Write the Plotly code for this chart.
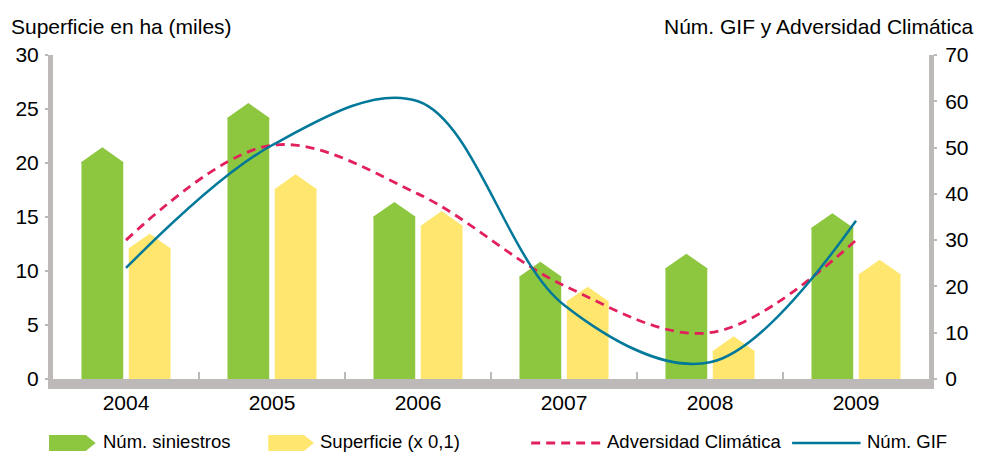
import plotly.graph_objects as go

# ---------------- data ----------------
years = ["2004", "2005", "2006", "2007", "2008", "2009"]
siniestros = [20.1, 24.2, 15.05, 9.5, 10.25, 14.0]      # left axis
superficie = [12.1, 17.6, 14.2, 7.2, 2.6, 9.7]          # left axis (x 0,1)
adversidad = [30.0, 50.5, 40.0, 20.2, 10.0, 30.0]       # right axis
num_gif = [24.0, 50.5, 60.0, 16.0, 3.6, 34.2]           # right axis

left_ticks = [0, 5, 10, 15, 20, 25, 30]
right_ticks = [0, 10, 20, 30, 40, 50, 60, 70]

# ---------------- style ----------------
W, H = 981, 452
L, R, T, B = 53, 936, 55, 379
GREEN = "#8DC63F"
YELLOW = "#FFE76F"
TEAL = "#00789A"
RED = "#E2215C"
GREY = "#BDB9B9"
FONT = "Liberation Sans, Arial, sans-serif"

BAR_W = 0.286
OFF_G = -0.305
OFF_Y = 0.019
CAP = 1.35  # arrow cap height in left-axis units


def px(x):
    return (x - L) / (R - L)


def py(y):
    return (B - y) / (B - T)


xs = list(range(len(years)))

fig = go.Figure()


def add_arrow_bars(vals, off, color, name):
    fig.add_trace(go.Bar(x=xs, y=vals, width=BAR_W, offset=off,
                         marker=dict(color=color, line=dict(width=0)),
                         name=name, showlegend=False, hoverinfo="skip"))
    cx, cy = [], []
    for x, v in zip(xs, vals):
        x0 = x + off
        x1 = x0 + BAR_W
        cx += [x0, x0, (x0 + x1) / 2, x1, x1, None]
        cy += [v - 0.15, v, v + CAP, v, v - 0.15, None]
    fig.add_trace(go.Scatter(x=cx, y=cy, mode="lines", fill="toself",
                             fillcolor=color, line=dict(width=0, color=color),
                             showlegend=False, hoverinfo="skip"))


add_arrow_bars(siniestros, OFF_G, GREEN, "Núm. siniestros")
add_arrow_bars(superficie, OFF_Y, YELLOW, "Superficie (x 0,1)")

fig.add_trace(go.Scatter(x=xs, y=adversidad, yaxis="y2", mode="lines",
                         line=dict(color=RED, width=2.8, dash="9px,6px",
                                   shape="spline", smoothing=1),
                         name="Adversidad Climática", showlegend=False,
                         hoverinfo="skip"))
fig.add_trace(go.Scatter(x=xs, y=num_gif, yaxis="y2", mode="lines",
                         line=dict(color=TEAL, width=2.5,
                                   shape="spline", smoothing=1),
                         name="Núm. GIF", showlegend=False, hoverinfo="skip"))

fig.update_layout(
    width=W, height=H,
    margin=dict(l=L, r=W - R, t=T, b=H - B, pad=0),
    paper_bgcolor="white", plot_bgcolor="white",
    barmode="overlay",
    font=dict(family=FONT, size=21, color="#000000"),
    showlegend=False,
    xaxis=dict(range=[-0.5, 5.5], tickmode="array", tickvals=xs,
               ticktext=years, ticks="", showgrid=False, zeroline=False,
               showline=True, linecolor=GREY, linewidth=10,
               tickfont=dict(size=21), ticklabelstandoff=-4,
               minor=dict(tickmode="array",
                          tickvals=[0.5, 1.5, 2.5, 3.5, 4.5],
                          ticks="inside", ticklen=7, tickwidth=2,
                          tickcolor=GREY, showgrid=False)),
    yaxis=dict(range=[0, 30], tickmode="array", tickvals=left_ticks,
               ticks="outside", ticklen=3, tickwidth=2, tickcolor=GREY,
               showline=True, linecolor=GREY, linewidth=5,
               ticklabelstandoff=2,
               showgrid=False, zeroline=False, tickfont=dict(size=21)),
    yaxis2=dict(range=[0, 70], tickmode="array", tickvals=right_ticks,
                overlaying="y", side="right",
                ticks="outside", ticklen=3, tickwidth=2, tickcolor=GREY,
                showline=True, linecolor=GREY, linewidth=5,
                ticklabelstandoff=4,
                showgrid=False, zeroline=False, tickfont=dict(size=21)),
)

# axis titles
fig.add_annotation(text="Superficie en ha (miles)", xref="paper", yref="paper",
                   x=px(9), y=py(26), xanchor="left", yanchor="middle",
                   showarrow=False, font=dict(size=21))
fig.add_annotation(text="Núm. GIF y Adversidad Climática", xref="paper",
                   yref="paper", x=px(983), y=py(26), xanchor="right",
                   yanchor="middle", showarrow=False, font=dict(size=21))

# custom legend
LEG_Y = 443
LEG_FONT = 18.5


def arrow_icon(x0, x1, color):
    y0, y1 = LEG_Y - 8, LEG_Y + 8
    shoulder = x1 - 10
    path = (f"M {px(x0)},{py(y0)} L {px(shoulder)},{py(y0)} "
            f"L {px(x1)},{py(LEG_Y)} L {px(shoulder)},{py(y1)} "
            f"L {px(x0)},{py(y1)} Z")
    fig.add_shape(type="path", path=path, xref="paper", yref="paper",
                  fillcolor=color, line=dict(width=0), layer="above")


def legend_text(x, text):
    fig.add_annotation(text=text, xref="paper", yref="paper", x=px(x),
                       y=py(441), xanchor="left", yanchor="middle",
                       showarrow=False, font=dict(size=LEG_FONT))


arrow_icon(49, 96, GREEN)
legend_text(101, "Núm. siniestros")
arrow_icon(270, 316, YELLOW)
legend_text(320, "Superficie (x 0,1)")
fig.add_shape(type="line", xref="paper", yref="paper", x0=px(535), x1=px(605),
              y0=py(LEG_Y), y1=py(LEG_Y),
              line=dict(color=RED, width=2.8, dash="9px,6px"))
legend_text(609, "Adversidad Climática")
fig.add_shape(type="line", xref="paper", yref="paper", x0=px(798), x1=px(867),
              y0=py(LEG_Y), y1=py(LEG_Y), line=dict(color=TEAL, width=2.5))
legend_text(871, "Núm. GIF")

fig.write_html("out.html", config={"displayModeBar": False},
               post_script="document.body.style.margin='0px';"
                           "document.body.style.padding='0px';")
